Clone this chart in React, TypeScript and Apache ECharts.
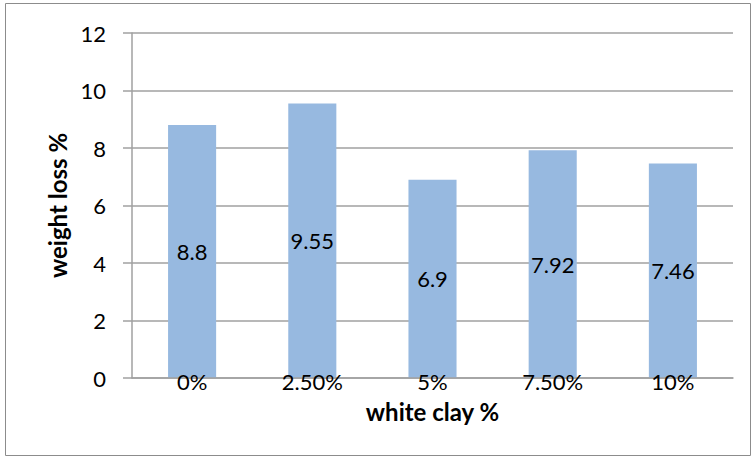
import React, { useEffect, useRef } from "react";
import * as echarts from "echarts";

const categories = ["0%", "2.50%", "5%", "7.50%", "10%"];
const weightLoss = [8.8, 9.55, 6.9, 7.92, 7.46];
const yTicks = [0, 2, 4, 6, 8, 10, 12];

export default function App() {
  const ref = useRef<HTMLDivElement>(null);
  useEffect(() => {
    if (!ref.current) return;
    const chart = echarts.init(ref.current, null, { renderer: "svg" });
    const font = "Lato, 'Noto Sans', sans-serif";
    chart.setOption({
      animation: false,
      backgroundColor: "#ffffff",
      graphic: [
        {
          type: "rect",
          shape: { x: 5.5, y: 3.5, width: 745, height: 452 },
          style: { fill: "none", stroke: "#8c8c8c", lineWidth: 1 },
          silent: true,
          z: -1,
        },
      ],
      grid: { left: 132, top: 33, right: 19, bottom: 79 },
      xAxis: {
        type: "category",
        data: categories,
        name: "white clay %",
        nameLocation: "middle",
        nameGap: 21,
        nameTextStyle: { fontFamily: font, fontSize: 24, fontWeight: "bold", color: "#000" },
        axisLine: { lineStyle: { color: "#a0a0a0", width: 1.5 } },
        axisTick: { show: false },
        axisLabel: { fontFamily: font, fontSize: 22, color: "#000", margin: -8 },
        z: 10,
      },
      yAxis: {
        type: "value",
        min: yTicks[0],
        max: yTicks[yTicks.length - 1],
        interval: 2,
        name: "weight loss %",
        nameLocation: "middle",
        nameGap: 59,
        nameTextStyle: { fontFamily: font, fontSize: 24, fontWeight: "bold", color: "#000" },
        axisLine: { show: true, lineStyle: { color: "#a0a0a0", width: 1.5 } },
        axisTick: { show: true, length: 9, inside: false, lineStyle: { color: "#a0a0a0", width: 1.5 } },
        axisLabel: { fontFamily: font, fontSize: 22, color: "#000", margin: 26 },
        splitLine: { show: true, lineStyle: { color: "#a0a0a0", width: 1.5 } },
      },
      series: [
        {
          type: "bar",
          data: weightLoss,
          barWidth: "40%",
          itemStyle: { color: "#97b9e0" },
          label: {
            show: true,
            position: "inside",
            fontFamily: font,
            fontSize: 22,
            color: "#000",
          },
        },
      ],
    });
    return () => chart.dispose();
  }, []);
  return (
    <div
      ref={ref}
      style={{ position: "fixed", left: 0, top: 0, width: 752, height: 457 }}
    />
  );
}
